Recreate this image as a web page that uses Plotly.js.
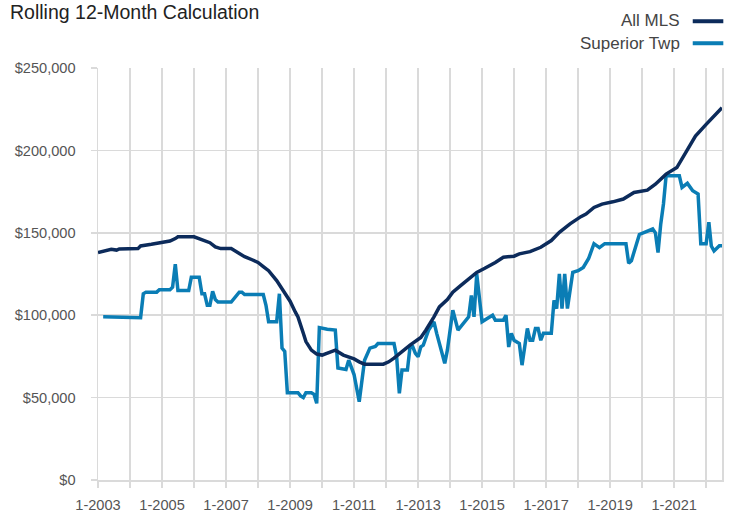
<!DOCTYPE html>
<html>
<head>
<meta charset="utf-8">
<script src="https://cdn.plot.ly/plotly-3.0.1.min.js"></script>
<style>html,body{margin:0;padding:0;background:#fff;}#chart{width:732px;height:515px;}</style>
</head>
<body>
<div id="chart"></div>
<script>
// All MLS (rolling 12-month median, $)
var mlsDates = ['2003-01','2003-04','2003-06','2003-08','2003-09','2004-04','2004-05','2004-09','2004-12','2005-04',
  '2005-06','2005-07','2006-01','2006-04','2006-07','2006-09','2006-11','2007-03','2007-05','2007-08',
  '2007-11','2008-01','2008-03','2008-05','2008-08','2008-11','2009-01','2009-03','2009-04','2009-06',
  '2009-07','2009-09','2009-11','2010-01','2010-03','2010-06','2010-09','2010-11','2011-01','2011-03',
  '2011-05','2011-12','2012-02','2012-04','2012-06','2012-10','2013-02','2013-04','2013-07','2013-09',
  '2013-12','2014-02','2014-05','2014-08','2014-11','2015-02','2015-04','2015-06','2015-09','2016-01',
  '2016-03','2016-07','2016-11','2017-03','2017-06','2017-10','2018-02','2018-04','2018-07','2018-10',
  '2019-02','2019-06','2019-10','2020-03','2020-06','2020-10','2021-02','2021-05','2021-09','2022-01',
  '2022-04','2022-07'];
var mlsValues = [138000,139000,140000,139500,140200,140400,142000,143000,144000,145000,
  146500,147600,147600,146000,144000,141500,140400,140400,138300,135500,
  133500,132000,129500,127000,121000,114000,108500,102000,99000,89000,
  84000,78800,76400,75800,76800,78800,75800,74800,73500,71700,
  70300,70300,71700,74000,76800,81800,86500,91000,99000,105000,
  109500,114000,118000,122000,126000,128500,130000,132000,135200,135800,
  137200,138600,141200,145300,150300,155400,159800,161400,165400,167400,
  168800,170500,174500,175900,179500,185600,189600,198000,208700,215800,
  220800,225900];

// Superior Twp
var supDates = ['2003-03','2004-04','2004-05','2004-06','2004-07','2004-11','2004-12','2005-04','2005-05','2005-06',
  '2005-07','2005-11','2005-12','2006-03','2006-04','2006-05','2006-06','2006-07','2006-08','2006-09',
  '2006-10','2007-03','2007-04','2007-06','2007-07','2007-08','2008-03','2008-04','2008-05','2008-08',
  '2008-09','2008-10','2008-11','2008-12','2009-04','2009-05','2009-06','2009-07','2009-09','2009-10',
  '2009-11','2009-12','2010-03','2010-06','2010-07','2010-10','2010-11','2011-01','2011-03','2011-04',
  '2011-05','2011-07','2011-09','2011-10','2012-04','2012-05','2012-06','2012-07','2012-09','2012-10',
  '2012-11','2012-12','2013-01','2013-02','2013-03','2013-05','2013-07','2013-08','2013-11','2013-12',
  '2014-02','2014-04','2014-06','2014-08','2014-09','2014-10','2014-11','2015-01','2015-03','2015-05',
  '2015-06','2015-09','2015-10','2015-11','2015-12','2016-01','2016-03','2016-04','2016-06','2016-07',
  '2016-08','2016-09','2016-10','2016-11','2016-12','2017-03','2017-04','2017-05','2017-06','2017-07',
  '2017-08','2017-09','2017-11','2018-01','2018-03','2018-05','2018-07','2018-09','2018-11','2019-07',
  '2019-08','2019-09','2019-12','2020-02','2020-05','2020-06','2020-07','2020-08','2020-09','2020-10',
  '2021-03','2021-04','2021-06','2021-08','2021-10','2021-11','2022-01','2022-02','2022-03','2022-04',
  '2022-06','2022-07'];
var supValues = [99000,99000,98500,113000,114000,114000,115500,115500,117000,131000,
  115000,115000,123000,123000,113000,113000,106000,106000,114500,109500,
  108000,108000,110000,114000,114000,112500,112500,106000,96000,96000,
  113000,80000,78000,53000,53000,51000,50000,53000,53000,52000,
  46500,92500,91500,91000,68000,67000,72700,64000,47500,62600,
  72700,80000,81000,82800,82800,74800,52600,66700,66700,80800,
  80800,76800,74800,80800,81800,91000,96000,89000,70800,78800,
  103000,91000,95000,99000,112000,99000,125000,96000,98000,100000,
  97000,97000,100000,80700,89000,84800,82800,69700,92000,84800,
  84800,92000,92000,84800,89000,89000,109000,104000,125000,104000,
  125000,104000,126000,127000,129000,134400,143400,141000,143400,143400,
  131500,133000,149000,150300,152300,150000,138000,155400,167500,184600,
  184600,177500,180000,175500,173500,143300,143300,156400,142000,139000,
  142200,142200];

var seriesNames = ['All MLS', 'Superior Twp'];
var xTickVals = ['2003-01-01','2004-01-01','2005-01-01','2006-01-01','2007-01-01','2008-01-01','2009-01-01',
  '2010-01-01','2011-01-01','2012-01-01','2013-01-01','2014-01-01','2015-01-01','2016-01-01','2017-01-01',
  '2018-01-01','2019-01-01','2020-01-01','2021-01-01','2022-01-01'];
var xTickText = ['1-2003','','1-2005','','1-2007','','1-2009','','1-2011','','1-2013','','1-2015','',
  '1-2017','','1-2019','','1-2021',''];
var yTickVals = [0, 50000, 100000, 150000, 200000, 250000];

var navy = '#0c2b5b';
var blue = '#0a7db5';
var grid = '#dadada';
var fontFam = '"Liberation Sans", Arial, sans-serif';

var traces = [
  {x: supDates, y: supValues, name: seriesNames[1], type: 'scatter', mode: 'lines',
   line: {color: blue, width: 3.5}},
  {x: mlsDates, y: mlsValues, name: seriesNames[0], type: 'scatter', mode: 'lines',
   line: {color: navy, width: 3.5}}
];

var layout = {
  width: 732, height: 515,
  margin: {l: 98, r: 10, t: 67.5, b: 35, pad: 0},
  paper_bgcolor: '#fff', plot_bgcolor: '#fff',
  showlegend: false,
  font: {family: fontFam, color: '#555', size: 14.6},
  title: {text: 'Rolling 12-Month Calculation', x: 10/732, xanchor: 'left', xref: 'container',
          y: 1 - 12.5/515, yanchor: 'middle', yref: 'container',
          font: {family: fontFam, size: 19.5, color: '#222'}},
  xaxis: {type: 'date', range: ['2003-01-01', '2022-07-01'],
          tickmode: 'array', tickvals: xTickVals, ticktext: xTickText,
          showgrid: true, gridcolor: grid, gridwidth: 1.5,
          ticks: 'outside', ticklen: 6, tickcolor: grid, tickwidth: 1.5,
          showline: true, linecolor: grid, linewidth: 1.5, zeroline: false,
          ticklabelstandoff: 5,
          tickfont: {size: 14.6, color: '#555'}},
  yaxis: {range: [0, 250000], tickmode: 'array', tickvals: yTickVals, tickformat: '$,.0f',
          showgrid: true, gridcolor: grid, gridwidth: 1.5,
          ticks: 'outside', ticklen: 6, tickcolor: grid, tickwidth: 1.5,
          showline: true, mirror: true, linecolor: grid, linewidth: 1.5, zeroline: false,
          ticklabelstandoff: 12,
          tickfont: {size: 14.6, color: '#555'}},
  annotations: [
    {text: seriesNames[0], xref: 'paper', yref: 'paper', x: 0.9354, y: 1.1151,
     xanchor: 'right', yanchor: 'middle', showarrow: false,
     font: {family: fontFam, size: 17, color: '#444'}},
    {text: seriesNames[1], xref: 'paper', yref: 'paper', x: 0.9354, y: 1.0601,
     xanchor: 'right', yanchor: 'middle', showarrow: false,
     font: {family: fontFam, size: 17, color: '#444'}}
  ],
  shapes: [
    {type: 'line', xref: 'paper', yref: 'paper', x0: 0.9531, x1: 1.0021, y0: 1.1135, y1: 1.1135,
     line: {color: navy, width: 4}},
    {type: 'line', xref: 'paper', yref: 'paper', x0: 0.9531, x1: 1.0021, y0: 1.0601, y1: 1.0601,
     line: {color: blue, width: 4}}
  ]
};

Plotly.newPlot('chart', traces, layout, {staticPlot: true, displayModeBar: false});
</script>
</body>
</html>
